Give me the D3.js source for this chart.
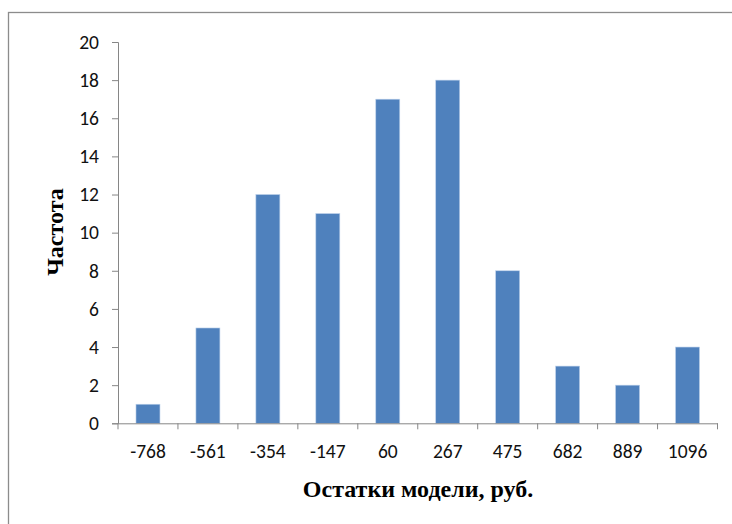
<!DOCTYPE html>
<html><head><meta charset="utf-8">
<script src="https://cdn.jsdelivr.net/npm/d3@7"></script>
<style>body{margin:0;background:#fff}svg{display:block}</style>
</head><body>
<script>
const categories = ["-768","-561","-354","-147","60","267","475","682","889","1096"];
const frequencies = [1,5,12,11,17,18,8,3,2,4];
const yTicks = [0,2,4,6,8,10,12,14,16,18,20];
const xTitle = "Остатки модели, руб.";
const yTitle = "Частота";

(function(){
const W = 732, H = 524;
const svg = d3.select("body").append("svg").attr("width", W).attr("height", H);
svg.append("rect").attr("x", 8.5).attr("y", 12.5).attr("width", 740).attr("height", 540)
  .attr("fill", "none").attr("stroke", "#8c8c8c").attr("stroke-width", 1.3);

const pl = 118, pr = 717.5, pt = 42, pb = 423.3;
const x = d3.scaleBand().domain(categories).range([pl, pr]).paddingInner(0.6).paddingOuter(0.3);
const xb = d3.scaleBand().domain(categories).range([pl, pr]);
const y = d3.scaleLinear().domain([0, 20]).range([pb, pt]);

const font = "Calibri, Carlito, Lato, 'Open Sans', sans-serif";
const axisColor = "#868686";

const yAxis = svg.append("g").attr("transform", `translate(${pl},0)`)
  .call(d3.axisLeft(y).tickValues(yTicks).tickSize(6).tickPadding(13));
yAxis.attr("font-size", null).attr("font-family", null);
yAxis.select(".domain").attr("stroke", axisColor);
yAxis.selectAll(".tick line").attr("stroke", axisColor);
yAxis.selectAll("text").style("font-family", font).style("font-size", "19.5px").attr("fill", "#111");

svg.append("g").selectAll("rect").data(frequencies).join("rect")
  .attr("x", (d, i) => x(categories[i]))
  .attr("width", x.bandwidth())
  .attr("y", d => y(d))
  .attr("height", d => y(0) - y(d))
  .attr("fill", "#4F81BD")
  .attr("stroke", "#bcd0ea").attr("stroke-width", 0.6);

const xAxis = svg.append("g").attr("transform", `translate(0,${pb})`)
  .call(d3.axisBottom(xb).tickSize(0).tickPadding(0));
xAxis.attr("font-size", null).attr("font-family", null);
xAxis.select(".domain").attr("stroke", axisColor);
xAxis.selectAll(".tick line").remove();
xAxis.selectAll(".tick text").style("font-family", font).style("font-size", "19.5px").attr("fill", "#111")
  .attr("dy", null).attr("y", 35);
const edges = categories.map(c => xb(c)).concat([pr]);
svg.append("g").selectAll("line").data(edges).join("line")
  .attr("x1", d => d).attr("x2", d => d)
  .attr("y1", pb).attr("y2", pb + 6)
  .attr("stroke", axisColor);

svg.append("text").attr("x", 418).attr("y", 497)
  .attr("text-anchor", "middle").style("font-family", "'Times New Roman', 'Liberation Serif', serif")
  .style("font-weight", "bold").style("font-size", "24px").text(xTitle);
svg.append("text").attr("transform", `translate(63,232) rotate(-90)`)
  .attr("text-anchor", "middle").style("font-family", "'Times New Roman', 'Liberation Serif', serif")
  .style("font-weight", "bold").style("font-size", "24px").text(yTitle);
})();
</script>
</body></html>
